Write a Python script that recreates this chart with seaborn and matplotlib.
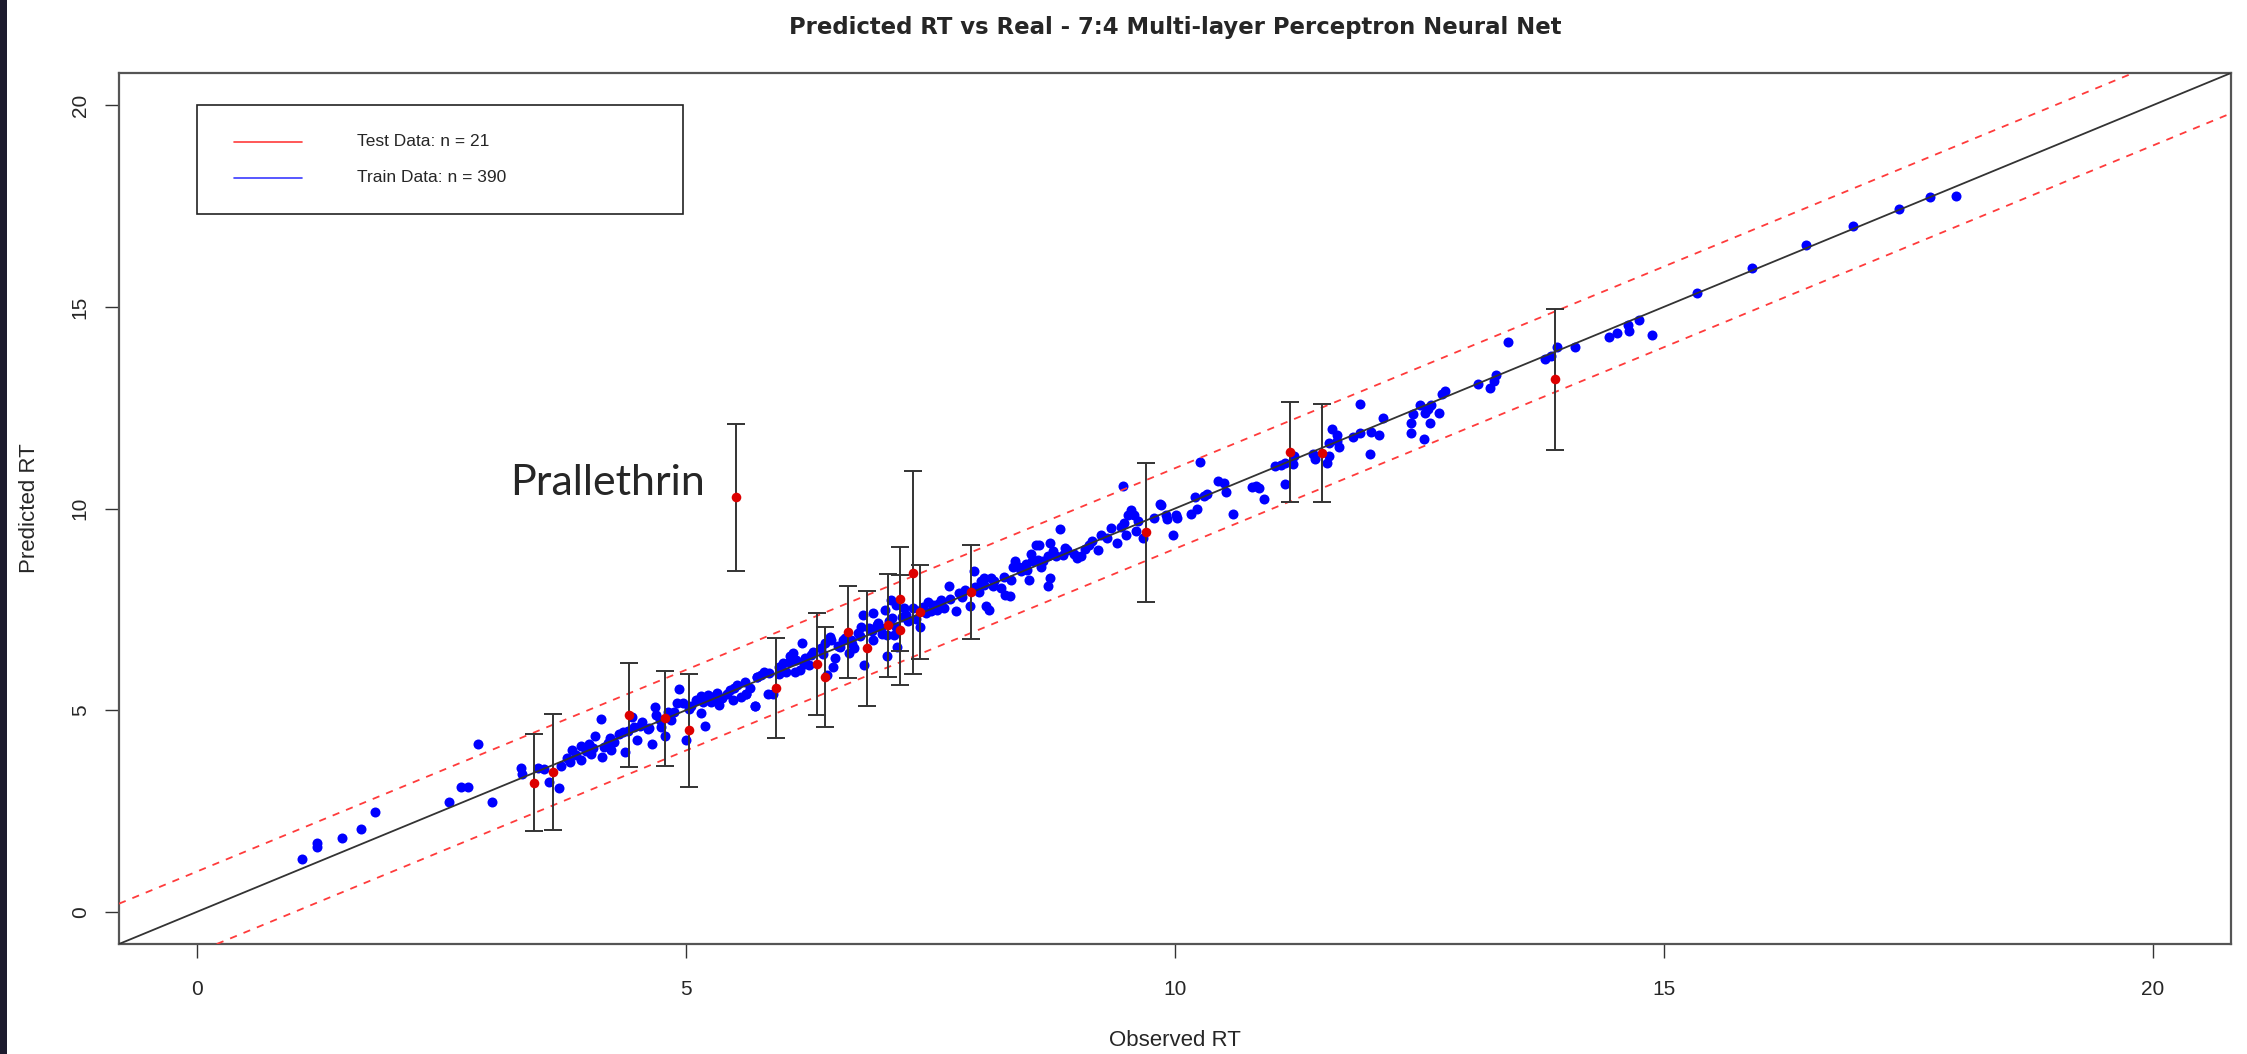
import matplotlib
matplotlib.use("Agg")
import matplotlib.pyplot as plt
from matplotlib.patches import Rectangle
import seaborn as sns
import pandas as pd

# --- data ---
# training set (blue), observed RT vs predicted RT
train_obs = [
    1.07, 1.22, 1.22, 1.48, 1.68, 1.82, 2.58, 2.70, 2.77, 2.87, 3.01,
    3.31, 3.32, 3.49, 3.55, 3.60, 3.70, 3.72, 3.78, 3.81, 3.83, 3.87, 3.92, 3.93, 3.98,
    4.01, 4.03, 4.07, 4.13, 4.14, 4.16, 4.20, 4.23, 4.26, 4.31, 4.38, 4.41, 4.45, 4.47,
    4.50, 4.53, 4.61, 4.65, 4.68, 4.69, 4.73, 4.74, 4.78, 4.81, 4.85, 4.91, 4.93, 4.97,
    5.00, 5.03, 5.15, 5.15, 5.17, 5.19, 5.22, 5.27, 5.32, 5.34, 5.37, 5.42, 5.48, 5.49,
    5.56, 5.60, 5.61, 5.70, 5.73, 5.61, 5.70, 5.72,
    5.77, 5.84, 5.85, 5.89, 5.95, 5.99, 6.02, 6.06, 6.09, 6.11, 6.16, 6.19, 6.21, 6.26,
    6.28, 6.38, 6.42, 6.44, 6.47, 6.48, 6.50, 6.52, 6.57, 6.60, 6.67, 6.69, 6.72, 6.76,
    6.79, 6.81, 6.82, 6.87, 6.91, 6.91, 6.96, 6.99, 7.03, 7.05, 7.05, 7.10, 7.11, 7.13,
    7.15, 7.16, 7.21, 7.23, 7.27, 7.32, 7.39, 7.40, 7.45, 7.47, 7.52, 7.57, 7.61, 7.64,
    7.69, 7.76, 7.79,
    7.85, 7.90, 7.94, 8.00, 8.02, 8.05, 8.07, 8.10, 8.12, 8.14, 8.22, 8.26, 8.31, 8.32,
    8.34, 8.36, 8.43, 8.49, 8.51, 8.53, 8.54, 8.58, 8.60, 8.61, 8.63, 8.70, 8.70, 8.72,
    8.72, 8.78, 8.82, 8.87, 8.90, 8.97, 9.00, 9.04, 9.12, 9.21, 9.24, 9.35, 9.41, 9.47,
    9.48, 9.50, 9.52, 9.55, 9.58, 9.60, 9.67, 9.79, 9.85,
    9.86, 9.91, 9.92, 9.98, 10.01, 10.02, 10.16, 10.20, 10.22, 10.26, 10.30, 10.33, 10.44,
    10.50, 10.52, 10.59, 10.79, 10.83, 10.86, 10.91, 11.02, 11.08, 11.13, 11.13, 11.21,
    11.22, 11.41, 11.43, 11.55, 11.57, 11.58, 11.61, 11.66, 11.66, 11.68, 11.82, 11.89,
    11.89, 11.99, 12.00, 12.09, 12.13, 12.41, 12.41, 12.43,
    12.51, 12.55, 12.56, 12.59, 12.61, 12.62, 12.70, 12.73, 12.76, 13.10, 13.22, 13.26,
    13.28, 13.41, 13.78, 13.85, 13.91, 14.09,
    14.44, 14.52, 14.63, 14.64, 14.75, 14.88, 15.34, 15.90, 16.45, 16.93, 17.40, 17.72, 17.99,
    # points hidden inside the dense band
    4.05, 4.22, 4.35, 4.55, 4.62, 4.88, 5.05, 5.10, 5.25, 5.30, 5.45, 5.52, 5.65, 5.80,
    5.95, 6.05, 6.12, 6.22, 6.30, 6.40, 6.55, 6.62, 6.70, 6.78, 6.90, 6.95, 7.00, 7.08,
    7.15, 7.25, 7.35, 7.42, 7.50, 7.58, 7.70, 7.82, 7.95, 8.05, 8.15, 8.25, 8.40, 8.48,
    8.65, 8.75, 8.85, 9.08, 9.15, 9.30, 9.45, 9.62,
]
train_pred = [
    1.31, 1.71, 1.60, 1.84, 2.06, 2.47, 2.72, 3.09, 3.09, 4.17, 2.72,
    3.56, 3.41, 3.57, 3.53, 3.22, 3.07, 3.61, 3.81, 3.71, 4.00, 3.88, 4.10, 3.76, 3.99,
    4.15, 3.91, 4.37, 4.77, 3.84, 4.09, 4.19, 4.00, 4.21, 4.40, 3.96, 4.49, 4.82, 4.58,
    4.25, 4.60, 4.54, 4.17, 5.08, 4.88, 4.75, 4.58, 4.35, 4.96, 4.75, 5.18, 5.52, 5.17,
    4.27, 5.04, 5.35, 4.92, 5.21, 4.60, 5.37, 5.27, 5.43, 5.12, 5.31, 5.40, 5.25, 5.54,
    5.32, 5.70, 5.40, 5.10, 5.83, 5.41, 5.11, 5.83,
    5.87, 5.41, 5.91, 5.40, 6.08, 6.16, 5.95, 6.33, 6.41, 5.95, 6.00, 6.66, 6.14, 6.12,
    6.37, 6.53, 6.66, 5.87, 6.82, 6.74, 6.08, 6.29, 6.57, 6.74, 6.41, 6.74, 6.53, 6.91,
    7.07, 7.36, 6.12, 7.03, 6.74, 7.40, 7.15, 7.03, 7.49, 6.33, 6.87, 7.74, 7.28, 6.87,
    7.61, 6.57, 7.32, 7.53, 7.20, 7.53, 7.07, 7.49, 7.42, 7.69, 7.61, 7.49, 7.74, 7.53,
    8.07, 7.45, 7.90,
    7.99, 7.57, 8.46, 7.94, 8.19, 8.27, 7.57, 7.49, 8.27, 8.07, 8.03, 7.86, 7.82, 8.23,
    8.56, 8.69, 8.44, 8.48, 8.23, 8.86, 8.69, 9.10, 8.73, 9.10, 8.56, 8.81, 8.08, 9.15,
    8.27, 8.81, 9.48, 9.02, 8.98, 8.86, 8.77, 8.81, 9.10, 8.98, 9.35, 9.52, 9.15, 10.55,
    9.64, 9.35, 9.85, 9.97, 9.85, 9.44, 9.27, 9.77, 10.10,
    10.08, 9.83, 9.74, 9.35, 9.85, 9.77, 9.86, 10.29, 9.98, 11.15, 10.31, 10.35, 10.68,
    10.62, 10.41, 9.86, 10.53, 10.56, 10.51, 10.24, 11.05, 11.09, 10.60, 11.14, 11.11,
    11.29, 11.34, 11.22, 11.14, 11.63, 11.30, 11.97, 11.82, 11.68, 11.53, 11.78, 11.86,
    12.59, 11.34, 11.90, 11.82, 12.24, 12.11, 11.87, 12.34,
    12.57, 11.72, 12.38, 12.46, 12.13, 12.57, 12.36, 12.84, 12.92, 13.08, 12.98, 13.15,
    13.31, 14.12, 13.71, 13.77, 14.01, 14.00,
    14.25, 14.35, 14.55, 14.41, 14.68, 14.30, 15.35, 15.96, 16.53, 17.01, 17.43, 17.73, 17.75,
    4.05, 4.30, 4.45, 4.70, 4.55, 4.95, 5.10, 5.25, 5.20, 5.35, 5.50, 5.62, 5.55, 5.95,
    5.90, 6.20, 6.25, 6.30, 6.45, 6.40, 6.60, 6.80, 6.65, 6.85, 6.95, 7.10, 6.90, 7.20,
    7.05, 7.35, 7.25, 7.55, 7.45, 7.62, 7.75, 7.80, 8.05, 8.10, 8.20, 8.30, 8.55, 8.62,
    8.70, 8.95, 8.85, 9.00, 9.20, 9.28, 9.55, 9.70,
]

# test set (red) with error bars
test_obs = [3.44, 3.64, 4.42, 4.78, 5.03, 5.51, 5.92, 6.34, 6.42, 6.66, 6.85,
            7.06, 7.19, 7.19, 7.32, 7.39, 7.91, 9.70, 11.18, 11.50, 13.89]
test_pred = [3.20, 3.46, 4.88, 4.80, 4.50, 10.28, 5.56, 6.14, 5.83, 6.94, 6.53,
             7.10, 7.76, 6.99, 8.41, 7.43, 7.93, 9.41, 11.40, 11.37, 13.20]
test_err = [1.21, 1.44, 1.30, 1.18, 1.40, 1.82, 1.24, 1.27, 1.24, 1.15, 1.43,
            1.27, 1.29, 1.37, 2.52, 1.16, 1.16, 1.72, 1.24, 1.21, 1.75]

axis_ticks = [0, 5, 10, 15, 20]
band = 1.0
title = "Predicted RT vs Real - 7:4 Multi-layer Perceptron Neural Net"
legend_labels = ["Test Data: n = 21", "Train Data: n = 390"]
outlier_name = "Prallethrin"

train = pd.DataFrame({"obs": train_obs, "pred": train_pred})
test = pd.DataFrame({"obs": test_obs, "pred": test_pred, "err": test_err})

sns.set_style("white")
plt.rcParams["font.family"] = ["Liberation Sans", "DejaVu Sans"]

fig = plt.figure(figsize=(22.47, 10.54), dpi=100)
fig.patches.append(Rectangle((0, 0), 7 / 2247, 1, transform=fig.transFigure,
                             facecolor="#1c1b2e", edgecolor="none"))
ax = fig.add_axes([119 / 2247, 1 - 944 / 1054, 2112 / 2247, 871 / 1054])

sns.scatterplot(data=train, x="obs", y="pred", ax=ax, color="#0000ff",
                s=52, linewidth=0, zorder=2)

ax.axline((0, 0), slope=1, color="#333333", lw=1.3, zorder=3)
for off in (band, -band):
    ax.axline((0, off), slope=1, color="#ff3b3b", lw=1.3, ls=(0, (4, 4)), zorder=3)

ax.errorbar(test["obs"], test["pred"], yerr=test["err"], fmt="none",
            ecolor="#333333", elinewidth=1.4, capsize=6.5, capthick=1.4, zorder=4)
sns.scatterplot(data=test, x="obs", y="pred", ax=ax, color="#dd0000",
                s=48, linewidth=0, zorder=5)

ax.set_xlim(-0.8, 20.8)
ax.set_ylim(-0.8, 20.8)
ax.set_xticks(axis_ticks)
ax.set_yticks(axis_ticks)
ax.tick_params(direction="out", length=10, width=1, color="#333333",
               labelsize=15, bottom=True, left=True)
ax.tick_params(axis="x", pad=16)
ax.tick_params(axis="y", pad=11)
for lab in ax.get_yticklabels():
    lab.set_rotation(90)
    lab.set_va("center")
for sp in ax.spines.values():
    sp.set_color("#555555")
    sp.set_linewidth(1.6)

ax.set_xlabel("Observed RT", fontsize=16, labelpad=22)
ax.set_ylabel("Predicted RT", fontsize=16, labelpad=22)
# title centred over the plot region, as R does
ax_mid = (119 + 2112 / 2) / 2247
fig.suptitle(title, fontsize=16.4, fontweight="bold", family=["DejaVu Sans"],
             x=ax_mid, y=0.985)

# legend box, R style
ax.add_patch(Rectangle((0, 17.31), 4.97, 20 - 17.31, facecolor="white",
                       edgecolor="#222222", lw=1.2, zorder=6))
for i, (lab, col) in enumerate(zip(legend_labels, ["#ff3b3b", "#3b3bff"])):
    yy = 19.09 - 0.89 * i
    ax.plot([0.38, 1.07], [yy, yy], color=col, lw=1.2, zorder=7)
    ax.text(1.63, yy, lab, fontsize=12.5, va="center", ha="left", zorder=7)

ax.text(3.20, 10.62, outlier_name, fontsize=31, family=["Lato", "DejaVu Sans"],
        va="center", ha="left")

fig.savefig("out.png", dpi=100)
